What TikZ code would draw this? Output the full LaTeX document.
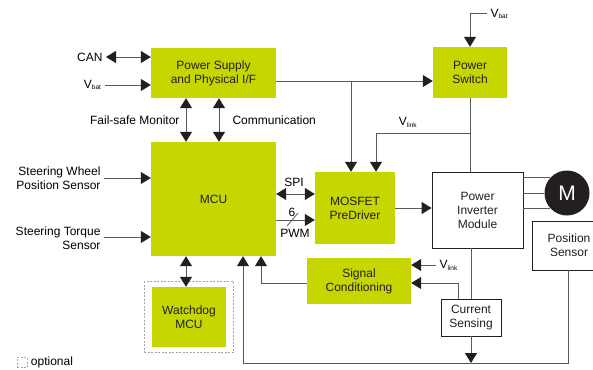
\documentclass[tikz,border=0pt]{standalone}
\usepackage{fontspec}
\setmainfont{Liberation Sans}
\usetikzlibrary{calc,positioning,fit,arrows.meta}

\definecolor{ecugreen}{HTML}{C5D600}
\definecolor{darkline}{HTML}{231F20}
\definecolor{greyline}{HTML}{58595B}
\newcommand{\vsub}[1]{V\textsubscript{\fontsize{6.5}{7}\selectfont #1}}

\tikzset{
  gbox/.style={fill=ecugreen, text=darkline, align=center, inner sep=0pt},
  wbox/.style={draw=darkline, fill=white, line width=0.8pt, text=darkline, align=center, inner sep=0pt},
  wire/.style={draw=greyline, line width=1pt},
  optbox/.style={draw=gray!70, line width=0.8pt, dash pattern=on 2pt off 1.5pt},
}

\begin{document}
\begin{tikzpicture}[x=1pt, y=-1pt, font=\fontsize{12}{14}\selectfont,
  >={Triangle[length=10pt, width=12pt, color=darkline]}]
  \useasboundingbox (0,0) rectangle (593,369);

  \node [gbox, minimum width=125pt, minimum height=50pt] (psu) at (213.5,73) {Power Supply\\and Physical I/F};
  \node [gbox, minimum width=125pt, minimum height=114pt] (mcu) at (213.5,199) {MCU};
  \node [gbox, minimum width=74pt, minimum height=51pt] (sw) at (470,72.5) {Power\\Switch};
  \node [gbox, minimum width=80pt, minimum height=72pt] (drv) at (355,208) {MOSFET\\PreDriver};
  \node [gbox, minimum width=104pt, minimum height=46pt] (sc) at (359,281) {Signal\\Conditioning};
  \node [gbox, minimum width=74pt, minimum height=60pt] (wd) at (189,317) {Watchdog\\MCU};
  \node [optbox, fit=(wd), inner xsep=7.5pt, inner ysep=5pt] (opt) {};

  \node [wbox, minimum width=91pt, minimum height=76pt] (pim) at (477.5,210) {Power\\Inverter\\Module};
  \node [wbox, minimum width=60pt, minimum height=37pt] (cs) at (471,317.5) {Current\\Sensing};
  \node [wbox, minimum width=74pt, minimum height=49pt] (pos) at (569,245.5) {Position\\Sensor};
  \node [circle, fill=darkline, minimum size=45pt, inner sep=0pt, text=white,
    font=\fontsize{21}{21}\selectfont] (mot) at (567,193) {M};

  %% inputs on the left
  \node [anchor=east] (can) at (106,57) {CAN};
  \node [anchor=east] (vbat1) at (105,85) {\vsub{bat}};
  \node [anchor=east, align=right] (swp) at (104,178) {Steering Wheel\\Position Sensor};
  \node [anchor=east, align=right] (trq) at (104,238) {Steering Torque\\Sensor};

  \draw [wire,<->] (can) -- (can -| psu.west);
  \draw [wire,->] (vbat1) -- (vbat1 -| psu.west);
  \draw [wire,->] (swp.east |- 0,178) -- (mcu.west |- 0,178);
  \draw [wire,->] (trq.east |- 0,237) -- (mcu.west |- 0,237);

  %% supply to MCU
  \draw [wire,<->] ([xshift=-27.5pt]psu.south) -- ([xshift=-27.5pt]mcu.north);
  \draw [wire,<->] ([xshift=5.5pt]psu.south) -- ([xshift=5.5pt]mcu.north);
  \node [anchor=east] (fsm) at (183,120) {Fail-safe Monitor};
  \node [anchor=west] (com) at (229,120) {Communication};

  %% MCU to predriver
  \draw [wire,<->] ([yshift=5pt]mcu.east) -- ([yshift=5pt]mcu.east -| drv.west);
  \draw [wire,->] ([yshift=-21pt]mcu.east) -- ([yshift=-21pt]mcu.east -| drv.west);
  \draw [wire, line width=0.8pt] (287,226) -- (298,213);
  \node (spi) at (294,182) {SPI};
  \node (six) at (292,212) {6};
  \node (pwm) at (295,233) {PWM};

  %% power path
  \coordinate (pj) at (351,81);
  \draw [wire,->] (psu.east |- pj) -- (sw.west |- pj);
  \draw [wire,->] (pj) -- (pj |- drv.north);
  \node [anchor=west] (vbat2) at (487,14) {\vsub{bat}};
  \draw [wire,->] (vbat2) -| (sw.north);
  \draw [wire] (sw.south) -- (sw.south |- pim.north);
  \draw [wire,->] (sw.south |- 0,133) -| ([xshift=21pt]drv.north);
  \node (vlink1) at (408,122) {\vsub{link}};
  \draw [wire,->] (drv.east) -- (drv.east -| pim.west);

  %% motor phases
  \draw [wire] (pim.east |- mot.138) -- (mot.138);
  \draw [wire] (pim.east |- mot.west) -- (mot.west);
  \draw [wire] (pim.east |- mot.222) -- (mot.222);

  %% feedback
  \coordinate (bus) at (0,363);
  \draw [wire] (cs.north |- pim.south) -- (cs.north);
  \draw [wire,->] (cs.south) -- (cs.south |- bus);
  \draw [wire,->] ([xshift=-13pt]cs.north) |- ([yshift=-2pt]sc.east);
  \node [anchor=west] (vlink2) at (436,265) {\vsub{link}};
  \draw [wire,->] (vlink2) -- (vlink2 -| sc.east);
  \draw [wire,->] ([yshift=-2pt]sc.west) -| ([xshift=47.5pt]mcu.south);
  \draw [wire,->] (pos.south -| 568,0) -- (bus -| 568,0) -| ([xshift=29.5pt]mcu.south);
  \draw [wire,<->] ([xshift=-27.5pt]mcu.south) -- ([xshift=-27.5pt]mcu.south |- wd.north);

  %% legend
  \node [optbox, minimum size=10pt, inner sep=0pt] (leg) at (22,362.5) {};
  \node [right=0pt of leg] (optl) {optional};
\end{tikzpicture}
\end{document}
